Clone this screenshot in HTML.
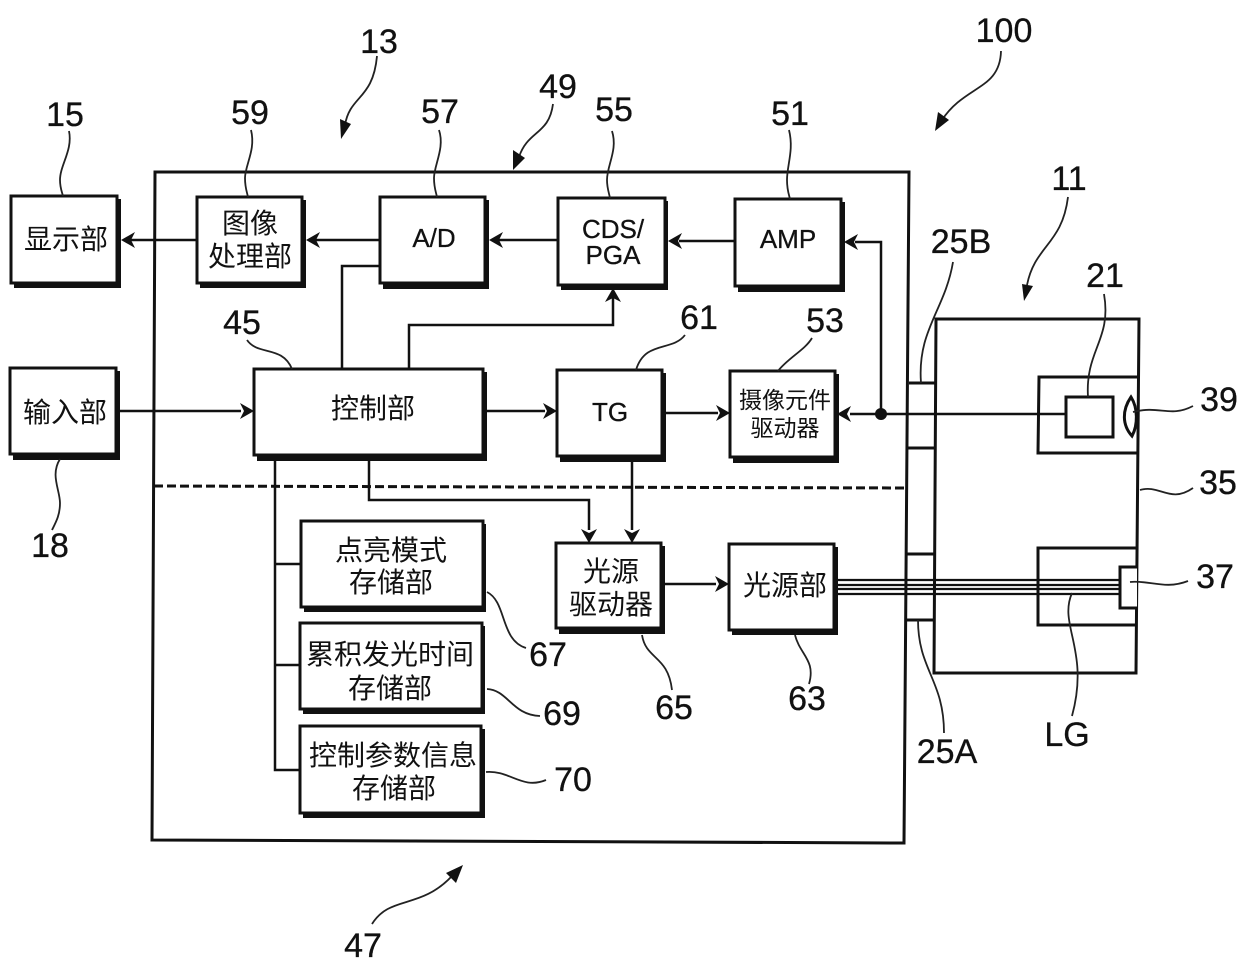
<!DOCTYPE html>
<html><head><meta charset="utf-8"><style>
html,body{margin:0;padding:0;background:#fff}
svg{display:block}
.n{font-family:"Liberation Sans",sans-serif;font-size:34px;fill:#111;text-anchor:middle;stroke:#111;stroke-width:.3}
.t{font-family:"Liberation Sans","Noto Sans CJK SC",sans-serif;font-size:28px;fill:#111;text-anchor:middle}
.l{font-family:"Liberation Sans",sans-serif;font-size:27px;fill:#111;text-anchor:middle;stroke:#111;stroke-width:.3}
.s{fill:#111;stroke:none}
.b{fill:#fff;stroke:#111;stroke-width:3}
.w{fill:none;stroke:#111;stroke-width:3}
.m{fill:none;stroke:#111;stroke-width:2.5}
.c{fill:none;stroke:#222;stroke-width:1.8}
.a{fill:#111;stroke:none}
</style></head><body>
<svg width="1240" height="970" viewBox="0 0 1240 970" xmlns="http://www.w3.org/2000/svg">
<rect width="1240" height="970" fill="#fff"/>
<!-- main enclosure -->
<path class="w" d="M155 172H909L904 843L152 840Z"/>
<!-- right scope -->
<path class="w" d="M936 319H1139L1136 673H934Z"/>
<path class="w" d="M1138 377H1039L1038 453H1138"/>
<rect class="b" x="1066" y="397" width="47" height="40"/>
<path class="w" d="M1131 397C1122 410 1122 425 1132 436C1138 425 1138 408 1131 397Z"/>
<path class="w" d="M1136 548H1038V625H1136"/>
<path class="w" style="fill:#fff" d="M1137 567H1120V608H1137"/>
<path class="w" d="M909 383H936M908 448H935M906 554H934M905 620H934"/>
<!-- fibres -->
<path class="m" d="M838 580H1120M838 585H1120M838 589H1120M838 594H1120" style="stroke-width:2.2"/>
<!-- dashed -->
<path d="M154 486L906 488" fill="none" stroke="#111" stroke-width="3" stroke-dasharray="9 4"/>
<!-- connectors -->
<path class="m" d="M197 240H130"/>
<path class="m" d="M380 240H316"/>
<path class="m" d="M558 240H499"/>
<path class="m" d="M735 241H679"/>
<path class="m" d="M342 369V266H380"/>
<path class="m" d="M409 369V325H613V298"/>
<path class="m" d="M120 411H241"/>
<path class="m" d="M486 411H545"/>
<path class="m" d="M666 413H718"/>
<path class="m" d="M1066 414H850"/>
<path class="m" d="M881 414V242H855"/>
<path class="m" d="M632 458V530"/>
<path class="m" d="M369 456V500H589V530"/>
<path class="m" d="M275 456V770H300M275 564H301M275 665H300"/>
<path class="m" d="M665 584H716"/>
<circle cx="881" cy="414" r="6" fill="#111"/>
<!-- arrowheads -->
<path class="a" d="M121 240L135 232L131 240L135 248Z"/>
<path class="a" d="M306 240L320 232L316 240L320 248Z"/>
<path class="a" d="M489 240L503 232L499 240L503 248Z"/>
<path class="a" d="M668 241L682 233L678 241L682 249Z"/>
<path class="a" d="M844 242L858 234L854 242L858 250Z"/>
<path class="a" d="M837 414L851 406L847 414L851 422Z"/>
<path class="a" d="M613 288L605 302L613 298L621 302Z"/>
<path class="a" d="M254 411L240 403L244 411L240 419Z"/>
<path class="a" d="M557 411L543 403L547 411L543 419Z"/>
<path class="a" d="M730 413L716 405L720 413L716 421Z"/>
<path class="a" d="M729 584L715 576L719 584L715 592Z"/>
<path class="a" d="M589 543L581 529L589 533L597 529Z"/>
<path class="a" d="M632 543L624 529L632 533L640 529Z"/>
<!-- boxes -->
<rect class="s" x="14" y="199" width="107" height="89"/><rect class="b" x="11" y="196" width="106" height="87"/>
<rect class="s" x="200" y="200" width="106" height="88"/><rect class="b" x="197" y="197" width="105" height="86"/>
<rect class="s" x="383" y="200" width="106" height="89"/><rect class="b" x="380" y="197" width="105" height="86"/>
<rect class="s" x="561" y="201" width="107" height="89"/><rect class="b" x="558" y="198" width="107" height="87"/>
<rect class="s" x="738" y="202" width="107" height="90"/><rect class="b" x="735" y="199" width="106" height="87"/>
<rect class="s" x="13" y="371" width="107" height="89"/><rect class="b" x="10" y="368" width="106" height="86"/>
<rect class="s" x="257" y="372" width="230" height="89"/><rect class="b" x="254" y="369" width="229" height="86"/>
<rect class="s" x="560" y="373" width="106" height="89"/><rect class="b" x="557" y="370" width="105" height="86"/>
<rect class="s" x="733" y="374" width="106" height="89"/><rect class="b" x="730" y="371" width="105" height="86"/>
<rect class="s" x="304" y="524" width="182" height="88"/><rect class="b" x="301" y="521" width="182" height="86"/>
<rect class="s" x="303" y="626" width="182" height="88"/><rect class="b" x="300" y="623" width="182" height="86"/>
<rect class="s" x="303" y="729" width="182" height="89"/><rect class="b" x="300" y="726" width="181" height="87"/>
<rect class="s" x="559" y="546" width="106" height="88"/><rect class="b" x="556" y="543" width="105" height="85"/>
<rect class="s" x="732" y="547" width="106" height="88"/><rect class="b" x="729" y="544" width="105" height="86"/>
<!-- box text -->
<text class="t" x="66" y="249">显示部</text>
<text class="t" x="250" y="233">图像</text>
<text class="t" x="250" y="266">处理部</text>
<text class="l" x="434" y="247" style="font-size:26px">A/D</text>
<text class="l" x="613" y="238" style="font-size:26px">CDS/</text>
<text class="l" x="613" y="264" style="font-size:26px">PGA</text>
<text class="l" x="788" y="248" style="font-size:26px">AMP</text>
<text class="t" x="65" y="422">输入部</text>
<text class="t" x="373" y="418">控制部</text>
<text class="l" x="610" y="421" style="font-size:26px">TG</text>
<text class="t" x="785" y="408" style="font-size:23px">摄像元件</text>
<text class="t" x="785" y="436" style="font-size:23px">驱动器</text>
<text class="t" x="391" y="560">点亮模式</text>
<text class="t" x="391" y="592">存储部</text>
<text class="t" x="390" y="664">累积发光时间</text>
<text class="t" x="390" y="698">存储部</text>
<text class="t" x="393" y="765">控制参数信息</text>
<text class="t" x="394" y="798">存储部</text>
<text class="t" x="611" y="581">光源</text>
<text class="t" x="611" y="614">驱动器</text>
<text class="t" x="785" y="595">光源部</text>
<!-- number labels -->
<text class="n" x="65" y="126">15</text>
<text class="n" x="250" y="124">59</text>
<text class="n" x="440" y="123">57</text>
<text class="n" x="379" y="53">13</text>
<text class="n" x="558" y="98">49</text>
<text class="n" x="614" y="121">55</text>
<text class="n" x="790" y="125">51</text>
<text class="n" x="1004" y="42">100</text>
<text class="n" x="1069" y="190">11</text>
<text class="n" x="961" y="253">25B</text>
<text class="n" x="1105" y="287">21</text>
<text class="n" x="1219" y="411">39</text>
<text class="n" x="1218" y="494">35</text>
<text class="n" x="1215" y="588">37</text>
<text class="n" x="242" y="334">45</text>
<text class="n" x="699" y="329">61</text>
<text class="n" x="825" y="332">53</text>
<text class="n" x="50" y="557">18</text>
<text class="n" x="548" y="666">67</text>
<text class="n" x="562" y="725">69</text>
<text class="n" x="573" y="791">70</text>
<text class="n" x="674" y="719">65</text>
<text class="n" x="807" y="710">63</text>
<text class="n" x="947" y="763">25A</text>
<text class="n" x="1067" y="746">LG</text>
<text class="n" x="363" y="957">47</text>
<!-- leader curves -->
<path class="c" d="M69 131C73 150 60 165 60 180C60 188 62 192 63 196"/>
<path class="c" d="M251 130C256 150 245 165 245 178C245 188 247 192 248 197"/>
<path class="c" d="M439 130C445 148 434 165 434 178C434 188 436 192 437 197"/>
<path class="c" d="M612 131C618 150 607 165 607 180C607 188 609 193 610 198"/>
<path class="c" d="M789 130C794 150 787 165 787 180C787 190 789 195 790 199"/>
<path class="c" d="M247 340C258 356 282 345 292 369"/>
<path class="c" d="M685 335C672 352 645 340 636 370"/>
<path class="c" d="M812 338C805 350 788 358 778 371"/>
<path class="c" d="M60 459C50 475 60 490 60 503C60 515 56 522 52 530"/>
<path class="c" d="M487 592C507 602 500 640 526 648"/>
<path class="c" d="M487 689C508 690 512 715 540 716"/>
<path class="c" d="M486 772C510 770 522 790 546 780"/>
<path class="c" d="M642 635C646 660 668 655 672 690"/>
<path class="c" d="M795 635C800 655 816 660 809 684"/>
<path class="c" d="M918 620C918 670 944 680 944 733"/>
<path class="c" d="M921 383C917 330 945 310 953 262"/>
<path class="c" d="M1088 397C1085 350 1112 340 1104 294"/>
<path class="c" d="M1072 593C1058 625 1090 650 1072 716"/>
<path class="c" d="M1133 412C1160 405 1170 418 1193 406"/>
<path class="c" d="M1140 490C1160 484 1170 504 1193 488"/>
<path class="c" d="M1130 582C1150 580 1165 590 1188 581"/>
<!-- pointer arrows -->
<path class="c" d="M377 56C373 100 350 95 345 125"/>
<path class="a" d="M341 139L340 119L351 124Z"/>
<path class="c" d="M553 104C549 135 528 130 519 157"/>
<path class="a" d="M513 170L513 150L525 158Z"/>
<path class="c" d="M1001 51C1000 90 965 85 942 120"/>
<path class="a" d="M935 131L938 112L949 120Z"/>
<path class="c" d="M1068 197C1062 245 1035 245 1027 285"/>
<path class="a" d="M1024 301L1022 284L1033 286Z"/>
<path class="c" d="M372 924C390 895 420 910 452 876"/>
<path class="a" d="M463 865L456 883L446 873Z"/>
</svg>
</body></html>
